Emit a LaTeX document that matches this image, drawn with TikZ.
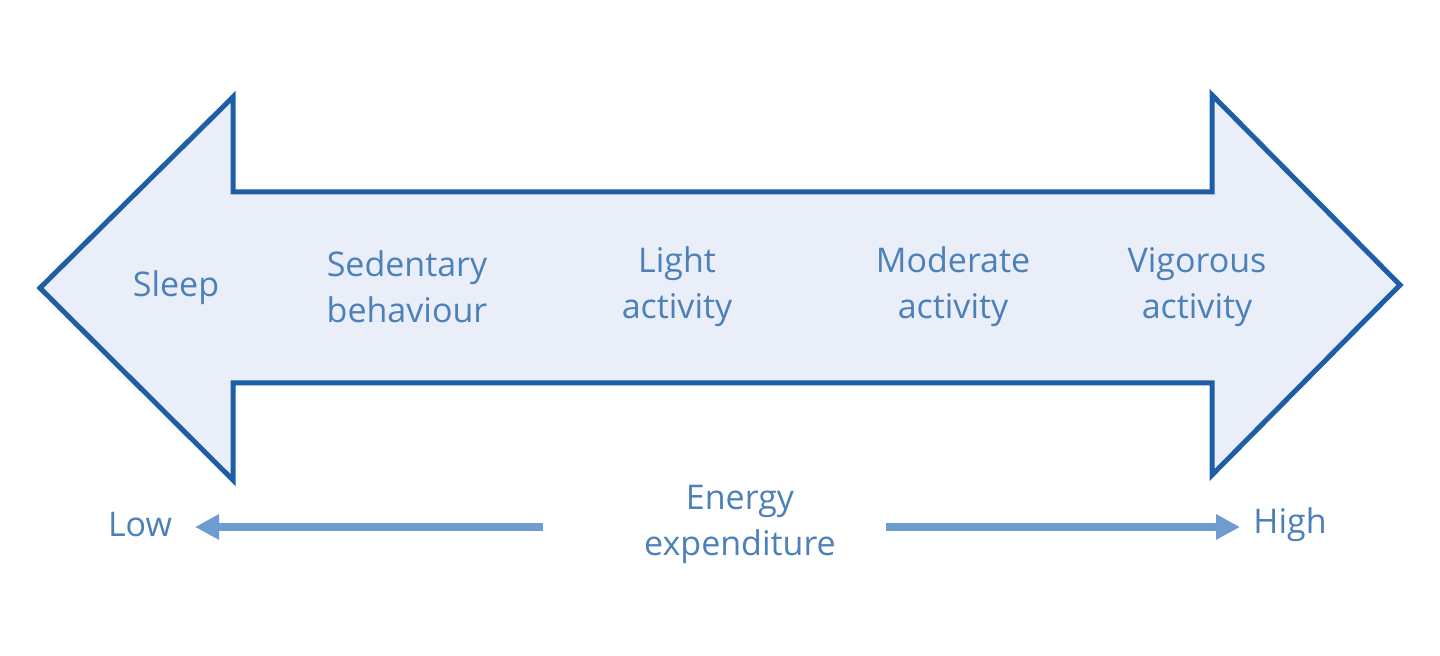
\documentclass[tikz,border=0pt]{standalone}
\usepackage{fontspec}
\setmainfont{Open Sans}
\usetikzlibrary{arrows.meta}
\definecolor{fillb}{HTML}{E9EEF8}
\definecolor{edgeb}{HTML}{1E5EA6}
\definecolor{txtb}{HTML}{4C80B8}
\definecolor{arrb}{HTML}{6E9BD0}
\begin{document}
\begin{tikzpicture}[x=0.5pt,y=-0.5pt,
  lbl/.style={text=txtb,font=\fontsize{17}{23}\selectfont,align=center,inner sep=0pt},
  thin arr/.style={draw=arrb,line width=4pt,-{Triangle[length=12pt,width=12pt]}}]
\useasboundingbox (0,0) rectangle (1440,656);
\draw[fill=fillb,draw=edgeb,line width=2.5pt,line join=miter]
 (40,288) -- (233,97) -- (233,192) -- (1212,192) -- (1212,95) -- (1400,285)
 -- (1212,475) -- (1212,383) -- (233,383) -- (233,480) -- cycle;
\node[lbl] (sleep) at (176,288) {Sleep};
\node[lbl] (sed) at (407,287) {Sedentary\\behaviour};
\node[lbl] (light) at (677,287) {Light\\activity};
\node[lbl] (mod) at (953,287) {Moderate\\activity};
\node[lbl] (vig) at (1197,287) {Vigorous\\activity};
\node[lbl] (energy) at (740,524) {Energy\\expenditure};
\node[lbl] (low) at (140,525) {Low};
\node[lbl] (high) at (1290,525) {High};
\coordinate (ls) at (543,527);
\coordinate (le) at (195,527);
\coordinate (rs) at (886,527);
\coordinate (re) at (1240,527);
\draw[thin arr] (ls) -- (le);
\draw[thin arr] (rs) -- (re);
\end{tikzpicture}
\end{document}
